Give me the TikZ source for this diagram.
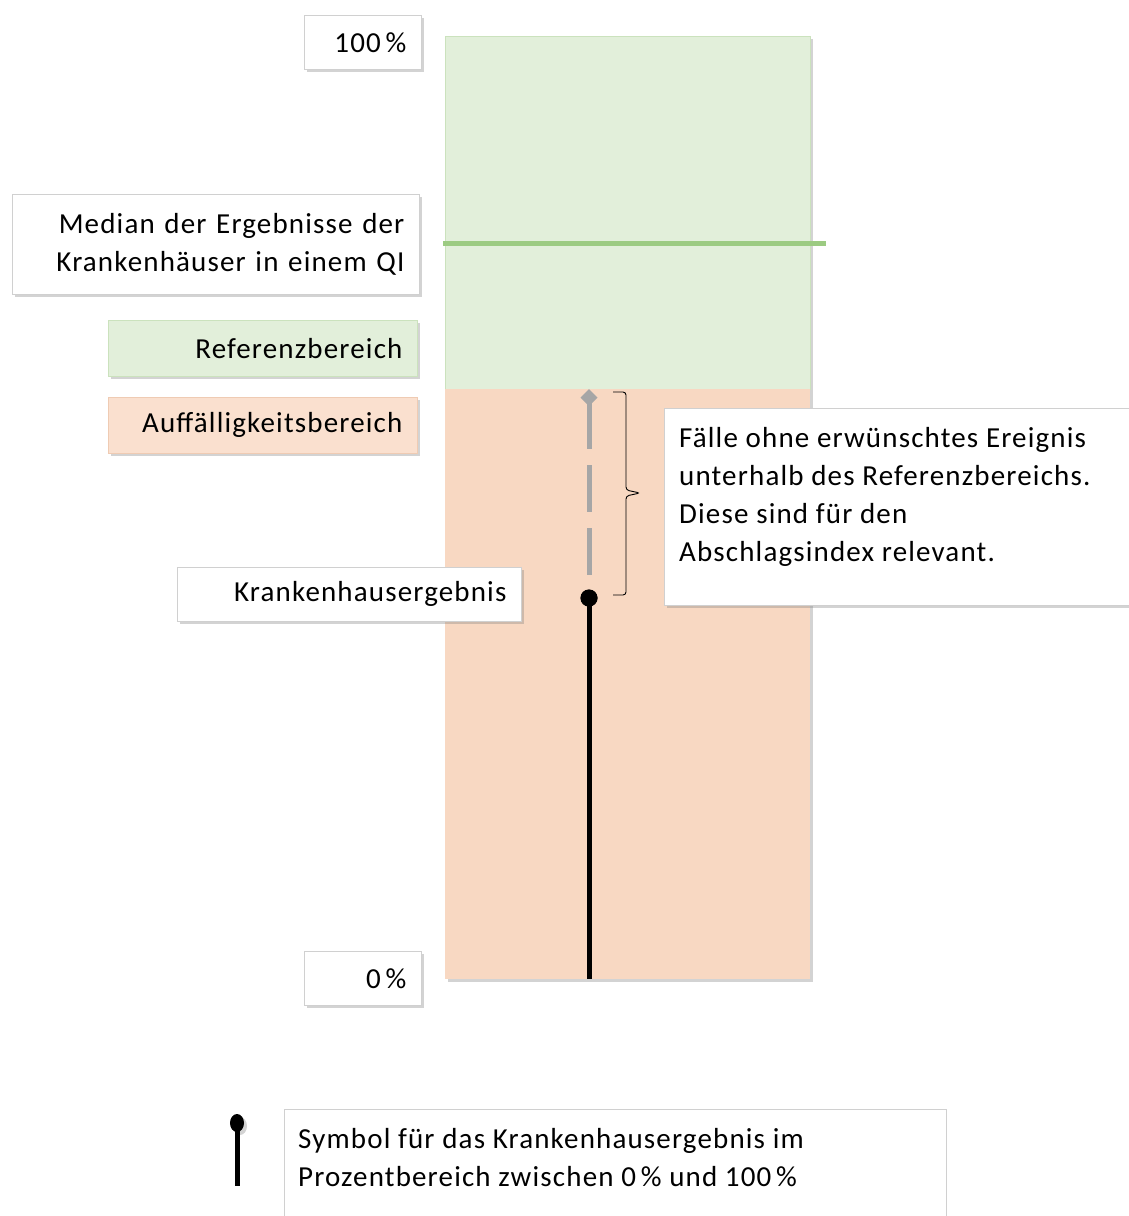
\documentclass[tikz,border=0pt]{standalone}
\usepackage{fontspec}
\setmainfont{Carlito}[LetterSpace=4]
\usepackage{tikz}
\usetikzlibrary{arrows.meta, calc, positioning, shadows, shapes.geometric}
\definecolor{refgreen}{HTML}{E2EFDA}
\definecolor{refedge}{HTML}{CBE2BD}
\definecolor{auffpeach}{HTML}{F8D8C2}
\definecolor{auffsoft}{HTML}{FAE0CF}
\definecolor{auffedge}{HTML}{EFCBB3}
\definecolor{medgreen}{HTML}{9CCB82}
\definecolor{boxedge}{HTML}{D0D0D0}
\definecolor{dashgrey}{HTML}{A6A6A6}

\begin{document}
\begin{tikzpicture}[x=1pt, y=-1pt, >=Latex, font=\fontsize{29}{38}\selectfont,
  boxshadow/.style={drop shadow={shadow xshift=3pt, shadow yshift=-3pt, opacity=.35}},
  labelbox/.style={draw=boxedge, line width=.8pt, fill=white, boxshadow, anchor=north west, inner xsep=15pt, align=right},
  zone/.style={anchor=north west, inner sep=0pt, boxshadow, minimum width=365pt},
  resultdot/.style={circle, fill=black, inner sep=0pt, minimum size=17pt},
  notetext/.style={anchor=north west, inner sep=0pt, align=left}]
\useasboundingbox (0,0) rectangle (1128,1216);

% zones
\node[zone, fill=refgreen, draw=refedge, minimum height=353pt] (refzone) at (445,36) {};
\node[zone, fill=auffpeach, minimum height=590pt] (auffzone) at (445,389) {};
\coordinate (medL) at (443,243);
\coordinate (medR) at (826,243);
\draw[medgreen, line width=5pt] (medL) -- (medR);

% labels left
\node[labelbox, text width=87pt, minimum height=54pt] (top) at (304,15) {100\,\%};
\node[labelbox, text width=377pt, minimum height=100pt] (median) at (12,194) {Median der Ergebnisse der\\Krankenhäuser in einem QI};
\node[labelbox, text width=279pt, minimum height=56pt, fill=refgreen, draw=refedge] (reflabel) at (108,320) {Referenzbereich};
\node[labelbox, text width=279pt, minimum height=56pt, fill=auffsoft, draw=auffedge] (aufflabel) at (108,397) {Auffälligkeitsbereich};
\node[labelbox, text width=87pt, minimum height=54pt] (bottom) at (304,951) {0\,\%};

% result
\node[resultdot] (result) at (589,598) {};
\draw[dashgrey, line width=5pt, dash pattern=on 47pt off 16pt, {Diamond[length=17pt, width=17pt]}-] (result |- auffzone.north) -- (result);
\draw[line width=5pt] (result.center) -- (result |- auffzone.south);
\node[resultdot] (result) at (589,598) {};
\node[labelbox, text width=314pt, minimum height=54pt] (resultlabel) at (177,567) {Krankenhausergebnis};

% brace and note
\coordinate (bracetop) at (613,392);
\coordinate (bracetip) at (640,493);
\coordinate (bracebot) at (613,595);
\draw[line width=.9pt, rounded corners=3pt] (bracetop) -- ++(13,0) -- ($(bracetip)+(-14,-3)$) -- (bracetip) -- ($(bracetip)+(-14,3)$) -- ($(bracebot)+(13,0)$) -- (bracebot);
\node[labelbox, minimum width=500pt, minimum height=197pt] (notebox) at (664,408) {};
\node[notetext] (note) at ($(notebox.north west)+(15,19)$) {Fälle ohne erwünschtes Ereignis\\unterhalb des Referenzbereichs.\\Diese sind für den\\Abschlagsindex relevant.};

% legend
\node[ellipse, fill=black, inner sep=0pt, minimum width=14pt, minimum height=18pt, boxshadow] (legdot) at (237,1123) {};
\coordinate (legfoot) at (237,1186);
\draw[line width=5pt] (legdot.center) -- (legfoot);
\node[draw=boxedge, line width=.8pt, fill=white, anchor=north west, minimum width=662pt, minimum height=150pt] (legbox) at (284,1109) {};
\node[notetext] (legtext) at ($(legbox.north west)+(14,19)$) {Symbol für das Krankenhausergebnis im\\Prozentbereich zwischen 0\,\% und 100\,\%};
\end{tikzpicture}
\end{document}
